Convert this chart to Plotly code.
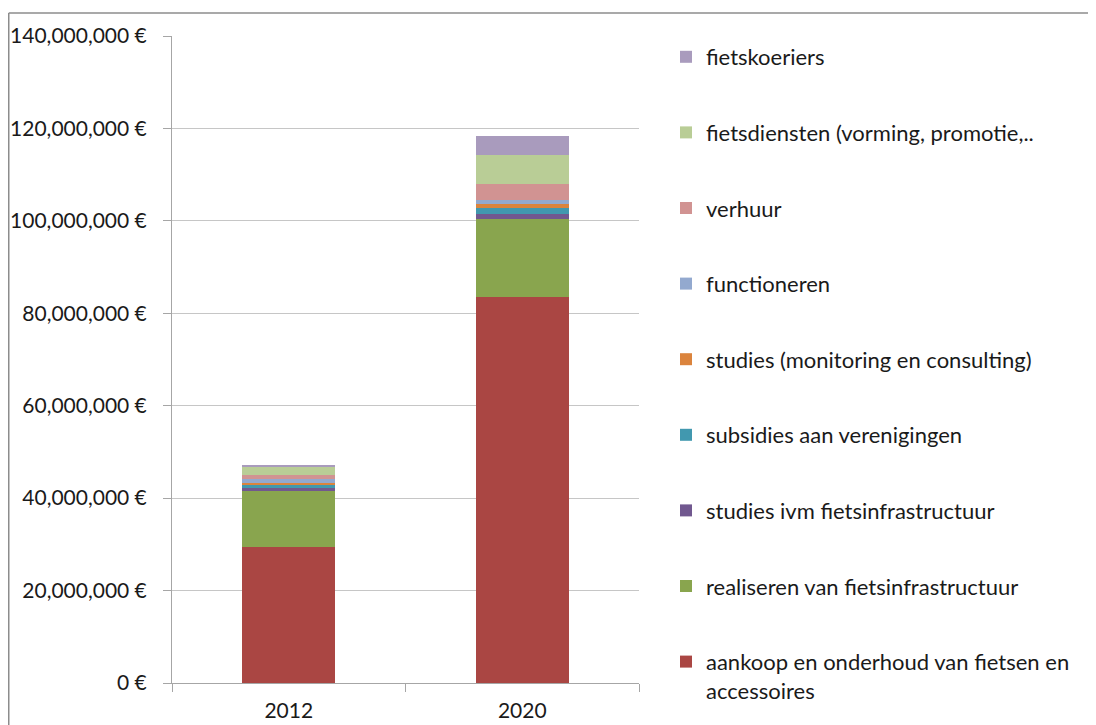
import plotly.graph_objects as go

years = ["2012", "2020"]
series_names = [
    "aankoop en onderhoud van fietsen en<br>accessoires",
    "realiseren van fietsinfrastructuur",
    "studies ivm fietsinfrastructuur",
    "subsidies aan verenigingen",
    "studies (monitoring en consulting)",
    "functioneren",
    "verhuur",
    "fietsdiensten (vorming, promotie,..",
    "fietskoeriers",
]
aankoop = [29_500_000, 83_500_000]
realiseren = [12_100_000, 17_000_000]
studies_infra = [600_000, 900_000]
subsidies = [850_000, 1_300_000]
studies_mon = [150_000, 1_000_000]
functioneren = [850_000, 900_000]
verhuur = [1_000_000, 3_400_000]
fietsdiensten = [1_600_000, 6_300_000]
fietskoeriers = [600_000, 4_100_000]
series_values = [aankoop, realiseren, studies_infra, subsidies, studies_mon,
                 functioneren, verhuur, fietsdiensten, fietskoeriers]
colors = ["#AA4643", "#89A54E", "#71588F", "#4198AF", "#DB843D",
          "#93A9CF", "#D19392", "#B9CD96", "#A99BBD"]

FONT = "Lato"
fig = go.Figure()
for i, (name, vals, col) in enumerate(zip(series_names, series_values, colors)):
    fig.add_trace(go.Bar(
        x=years, y=vals, name=name, marker=dict(color=col, line=dict(width=0)),
        legendgroup=f"g{i}", legendrank=1000 - i,
    ))

OFF = 8  # page body margin
W, H = 1096 - OFF, 725 - OFF
L, R, T, B = 172 - OFF, 639 - OFF, 36 - OFF, 683 - OFF
fig.update_layout(
    width=W, height=H,
    barmode="stack", bargap=0.6,
    plot_bgcolor="white", paper_bgcolor="white",
    margin=dict(l=L, r=W - R, t=T, b=H - B, pad=0, autoexpand=False),
    font=dict(family=FONT, size=21, color="#1a1a1a"),
    legend=dict(
        traceorder="grouped", tracegroupgap=44,
        x=(666 - OFF - L) / (R - L), xanchor="left",
        y=1.0, yanchor="top",
        font=dict(family=FONT, size=22, color="#1a1a1a"),
        valign="top", bgcolor="rgba(0,0,0,0)", maxheight=800,
    ),
    xaxis=dict(
        showline=True, linecolor="#a6a6a6", linewidth=1,
        ticks="outside", tickson="boundaries", ticklen=8, tickcolor="#a6a6a6",
        showgrid=False, ticklabelstandoff=9,
    ),
    yaxis=dict(
        range=[0, 140_000_000], dtick=20_000_000,
        tickformat=",.0f", ticksuffix=" €",
        showline=True, linecolor="#a6a6a6", linewidth=1,
        ticks="outside", ticklen=8, tickcolor="#a6a6a6",
        showgrid=True, gridcolor="#c6c6c6", gridwidth=1,
        zeroline=False, ticklabelstandoff=12,
    ),
)
# outer chart frame (left and top edges visible)
fx0 = (8 - OFF + 0.75 - L) / (R - L)
fy1 = (B - (13 - OFF)) / (B - T)
fig.add_shape(type="line", xref="paper", yref="paper", x0=fx0, x1=fx0, y0=fy1, y1=-0.2,
              line=dict(color="#8c8c8c", width=1.5))
fig.add_shape(type="line", xref="paper", yref="paper", x0=fx0, x1=2.0, y0=fy1, y1=fy1,
              line=dict(color="#8c8c8c", width=1.5))

fig.write_html("out.html")
